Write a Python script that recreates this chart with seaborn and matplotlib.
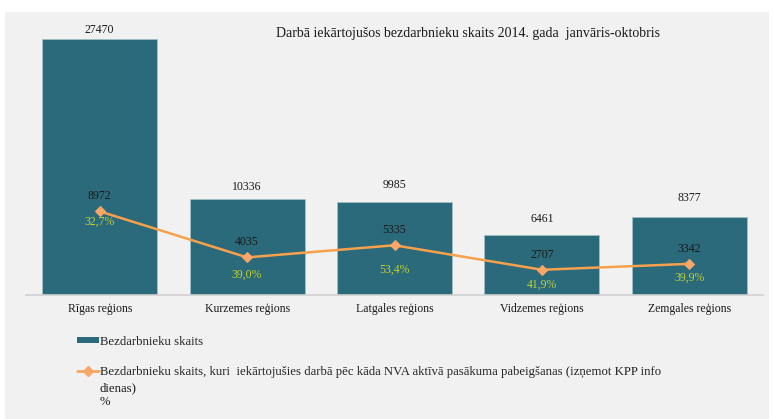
import matplotlib
matplotlib.use("Agg")
import matplotlib.pyplot as plt
import seaborn as sns
import numpy as np
from matplotlib.patches import Rectangle, Patch
from matplotlib.lines import Line2D

regions = ["Rīgas reģions", "Kurzemes reģions", "Latgales reģions", "Vidzemes reģions", "Zemgales reģions"]
unemployed = [27470, 10336, 9985, 6461, 8377]
employed_after = [8972, 4035, 5335, 2707, 3342]
share_labels = ["32,7%", "39,0%", "53,4%", "41,9%", "39,9%"]

bar_color = "#2a6a7a"
line_color = "#f7a14c"
pct_color = "#c4d12e"

# label offsets in px (the original labels were nudged by hand)
bar_lbl_dy = [9, 12, 17, 16, 19]
pct_lbl_dy = [10, 17, 24, 15, 14]

sns.set_style("white")
plt.rcParams["font.family"] = ["Liberation Serif", "DejaVu Serif"]

W, H = 773, 419
fig = plt.figure(figsize=(W / 100, H / 100), dpi=100, facecolor="white")
# grey chart area
fig.patches.append(Rectangle((5 / W, 0), 764 / W, 1 - 12 / H, transform=fig.transFigure,
                             facecolor="#f1f1f1", edgecolor="none", zorder=-10))

ax = fig.add_axes([26 / W, 1 - 295 / H, 737 / W, (295 - 15.4) / H])
ax.set_facecolor("none")

sns.barplot(x=regions, y=unemployed, color=bar_color, width=0.78, saturation=1,
            edgecolor="#9fc0c8", linewidth=0.6, ax=ax)
sns.lineplot(x=np.arange(len(regions)), y=employed_after, color=line_color, linewidth=1.8,
             marker="D", markersize=5.5, markerfacecolor="#f8a768", markeredgecolor="#f8a768",
             sort=False, ax=ax)

px = 0.72  # points per pixel at 100 dpi
for i, v in enumerate(unemployed):
    ax.annotate(str(v), (i, v), xytext=(0, bar_lbl_dy[i] * px), textcoords="offset points",
                ha="center", va="center", fontsize=8.5, color="#1a1a1a")
for i, v in enumerate(employed_after):
    ax.annotate(str(v), (i, v), xytext=(0, 15 * px), textcoords="offset points",
                ha="center", va="center", fontsize=8.5, color="#1a1a1a")
    ax.annotate(share_labels[i], (i, v), xytext=(0, -pct_lbl_dy[i] * px), textcoords="offset points",
                ha="center", va="center", fontsize=8.5, color=pct_color)

ax.set_xlim(-0.5, len(regions) - 0.5)
ax.set_ylim(0, 30000)
ax.set_yticks([])
for s in ["top", "left", "right"]:
    ax.spines[s].set_visible(False)
ax.spines["bottom"].set_color("#d0d0d0")
ax.spines["bottom"].set_linewidth(1.2)
ax.set_xticks(np.arange(len(regions)))
ax.set_xticklabels(regions, fontsize=8.5, color="#1a1a1a")
ax.tick_params(axis="x", which="major", length=0, pad=6)
ax.set_xticks(np.arange(len(regions) + 1) - 0.5, minor=True)
ax.tick_params(axis="x", which="minor", length=5, direction="inout", color="#c8c8c8", width=1)

fig.text(468.5 / W, 1 - 33 / H, "Darbā iekārtojušos bezdarbnieku skaits 2014. gada  janvāris-oktobris",
         ha="center", va="center", fontsize=10, color="#1a1a1a")

handles = [Patch(facecolor=bar_color, edgecolor="none"),
           Line2D([0], [0], color=line_color, linewidth=1.8, marker="D", markersize=5,
                  markerfacecolor="#f8a768", markeredgecolor="#f8a768")]
labels = ["Bezdarbnieku skaits",
          "Bezdarbnieku skaits, kuri  iekārtojušies darbā pēc kāda NVA aktīvā pasākuma pabeigšanas (izņemot KPP info"]
fig.legend(handles, labels, loc="upper left", bbox_to_anchor=(77 / W, 1 - 335.5 / H), frameon=False,
           fontsize=9.2, labelspacing=1.43, handlelength=1.72, handletextpad=0.08,
           handleheight=0.45, borderpad=0, borderaxespad=0)
fig.text(100 / W, 1 - 382.5 / H, "dienas)\n%", ha="left", va="top", fontsize=9.2,
         color="#1a1a1a", linespacing=1.15)

fig.savefig("out.png", dpi=100, facecolor="white")
